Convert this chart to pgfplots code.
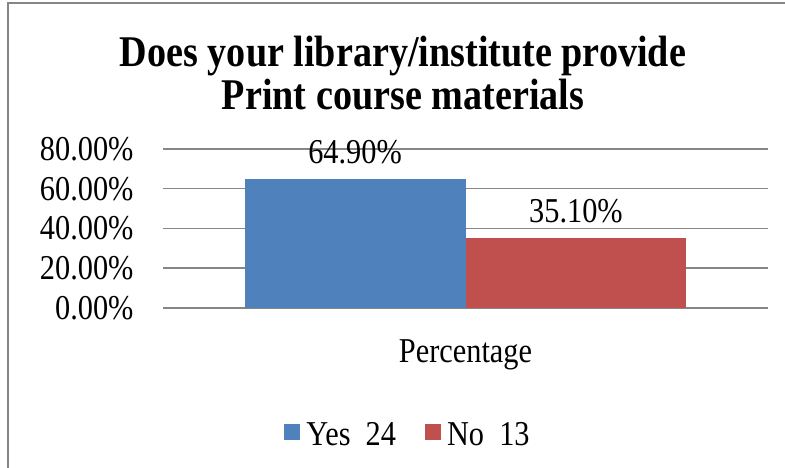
\documentclass[border=0pt]{standalone}
\usepackage{fontspec}
\setmainfont{Liberation Serif}[FakeStretch=0.87]
\usepackage{pgfplots}
\pgfplotsset{compat=1.18}
\definecolor{cyes}{HTML}{4F81BD}
\definecolor{cno}{HTML}{C0504D}
\definecolor{gridg}{HTML}{868686}
\begin{document}
\begin{tikzpicture}[x=1bp,y=1bp]
\useasboundingbox (0,0) rectangle (785,468);
\draw[gridg, line width=1.5bp] (8,0) -- (8,465) -- (790,465);
\node[font=\fontsize{44}{43}\selectfont\bfseries, align=center] at (403,395) {Does your library/institute provide\\Print course materials};
\begin{axis}[
  at={(163bp,160bp)}, anchor=south west,
  scale only axis, width=605bp, height=159bp,
  xmin=-1.369, xmax=1.369, ymin=0, ymax=80,
  ytick={0,20,40,60,80},
  yticklabels={0.00\%,20.00\%,40.00\%,60.00\%,80.00\%},
  xtick={0}, xticklabels={Percentage},
  ymajorgrids, major grid style={gridg, line width=1.5bp},
  axis line style={draw=none},
  major tick length=0pt,
  tick label style={font=\fontsize{35}{40}\selectfont},
  yticklabel style={anchor=east, xshift=-26bp},
  xticklabel style={anchor=center, yshift=-47bp},
  ybar, bar width=1, bar shift=0pt,
  nodes near coords, point meta=explicit symbolic,
  every node near coord/.append style={anchor=center, yshift=27bp, font=\fontsize{35}{40}\selectfont},
  legend style={at={(axis description cs:0.405,-0.80)}, anchor=center, draw=none, fill=none,
    legend columns=2, font=\fontsize{35}{40}\selectfont,
    /tikz/every even column/.style={column sep=27bp},
    /tikz/every odd column/.style={column sep=4bp}},
  legend image code/.code={\fill[#1] (0bp,-5bp) rectangle (16bp,11bp);},
]
\addplot[fill=cyes, draw=none] coordinates {(-0.5,64.9) [64.90\%]};
\addlegendentry{Yes\ \ 24}
\addplot[fill=cno, draw=none] coordinates {(0.5,35.1) [35.10\%]};
\addlegendentry{No\ \ 13}
\end{axis}
\end{tikzpicture}
\end{document}
